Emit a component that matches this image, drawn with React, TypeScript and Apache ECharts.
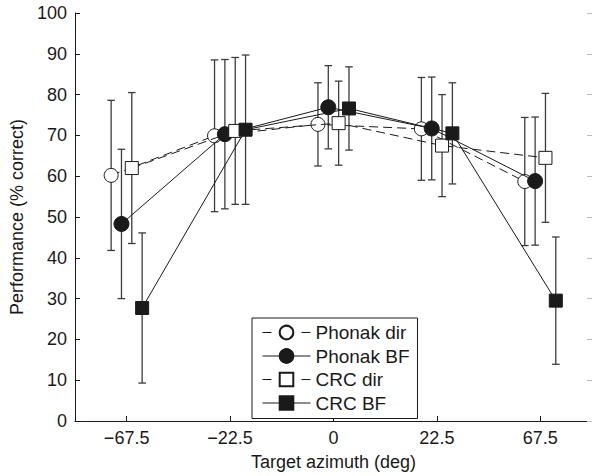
import React, { useEffect, useRef } from "react";
import * as echarts from "echarts";

const categories = ["−67.5", "−22.5", "0", "22.5", "67.5"];
const seriesNames = ["Phonak dir", "Phonak BF", "CRC dir", "CRC BF"];

const phonakDirMean = [60.2, 69.9, 72.7, 71.6, 58.7];
const phonakDirErr = [18.4, 18.6, 10.2, 12.6, 15.7];
const phonakBFMean = [48.3, 70.3, 76.9, 71.7, 58.8];
const phonakBFErr = [18.3, 18.3, 10.2, 12.6, 15.7];
const crcDirMean = [62.0, 71.1, 73.0, 67.5, 64.5];
const crcDirErr = [18.5, 18.0, 10.3, 12.5, 15.8];
const crcBFMean = [27.7, 71.4, 76.6, 70.5, 29.5];
const crcBFErr = [18.4, 18.3, 10.2, 12.4, 15.6];

const yTicks = [0, 10, 20, 30, 40, 50, 60, 70, 80, 90, 100];

const FONT = "'Liberation Sans', Arial, sans-serif";
const INK = "#1a1a1a";

export default function App() {
  const ref = useRef<HTMLDivElement>(null);
  useEffect(() => {
    const chart = echarts.init(ref.current!, null, { renderer: "svg" });
    const means = [phonakDirMean, phonakBFMean, crcDirMean, crcBFMean];
    const errs = [phonakDirErr, phonakBFErr, crcDirErr, crcBFErr];
    const offsets = [-0.15, -0.05, 0.05, 0.15];
    const styles = [
      { symbol: "circle", size: 14, fill: "#ffffff", dash: [9, 5] as any },
      { symbol: "circle", size: 15, fill: INK, dash: "solid" as any },
      { symbol: "rect", size: 13, fill: "#ffffff", dash: [9, 5] as any },
      { symbol: "rect", size: 13, fill: INK, dash: "solid" as any },
    ];
    const catPos = categories.map((_, i) => i + 1);

    const errorSeries = means.map((m, s) => ({
      type: "custom",
      name: seriesNames[s] + " err",
      z: 2,
      silent: true,
      data: m.map((v, i) => [catPos[i] + offsets[s], v - errs[s][i], v + errs[s][i]]),
      renderItem: (params: any, api: any) => {
        const x = api.value(0);
        const lo = api.coord([x, api.value(1)]);
        const hi = api.coord([x, api.value(2)]);
        const w = 3.8;
        const st = { stroke: "#3c3c3c", lineWidth: 1.3 };
        return {
          type: "group",
          children: [
            { type: "line", shape: { x1: lo[0], y1: lo[1], x2: hi[0], y2: hi[1] }, style: st },
            { type: "line", shape: { x1: hi[0] - w, y1: hi[1], x2: hi[0] + w, y2: hi[1] }, style: st },
            { type: "line", shape: { x1: lo[0] - w, y1: lo[1], x2: lo[0] + w, y2: lo[1] }, style: st },
          ],
        };
      },
    }));

    const lineSeries = means.map((m, s) => ({
      type: "line",
      name: seriesNames[s],
      z: 3 + s,
      data: m.map((v, i) => [catPos[i] + offsets[s], v]),
      symbol: styles[s].symbol,
      symbolSize: styles[s].size,
      itemStyle: { color: styles[s].fill, borderColor: INK, borderWidth: 1 },
      lineStyle: { color: INK, width: 1, type: styles[s].dash },
      emphasis: { disabled: true },
    }));

    chart.setOption({
      animation: false,
      backgroundColor: "#ffffff",
      textStyle: { fontFamily: FONT },
      grid: { left: 72, right: -3, top: 13, bottom: 51, containLabel: false },
      legend: {
        orient: "vertical",
        left: 252,
        top: 318,
        padding: [5, 8, 6, 10],
        borderColor: INK,
        borderWidth: 1,
        backgroundColor: "#ffffff",
        itemWidth: 48,
        itemHeight: 17,
        itemGap: 4.5,
        itemTextGap: 5,
        textStyle: { fontSize: 19, color: INK, fontFamily: FONT },
        data: seriesNames.map((n, i) => ({
          name: n,
          lineStyle: { type: i % 2 === 0 ? [9, 30] : "solid", width: 1, color: INK },
        })),
      },
      xAxis: {
        type: "value",
        min: 0.5,
        max: 5.5,
        name: "Target azimuth (deg)",
        nameLocation: "middle",
        nameGap: 32,
        nameTextStyle: { fontSize: 18, color: INK, fontFamily: FONT },
        splitLine: { show: false },
        axisLine: { show: true, onZero: false, lineStyle: { color: INK, width: 1 } },
        axisTick: { show: true, inside: true, length: 5, customValues: catPos, lineStyle: { color: INK } },
        axisLabel: {
          customValues: catPos,
          margin: 8,
          fontSize: 18,
          color: INK,
          fontFamily: FONT,
          formatter: (v: number) => categories[Math.round(v) - 1] ?? "",
        },
      },
      yAxis: [
        {
          type: "value",
          min: 0,
          max: 100,
          interval: 10,
          name: "Performance (% correct)",
          nameLocation: "middle",
          nameGap: 45,
          nameTextStyle: { fontSize: 18, color: INK, fontFamily: FONT },
          splitLine: { show: false },
          axisLine: { show: true, lineStyle: { color: INK, width: 1 } },
          axisTick: { show: true, inside: true, length: 5, lineStyle: { color: INK } },
          axisLabel: {
            margin: 8,
            fontSize: 18,
            color: INK,
            fontFamily: FONT,
            formatter: (v: number) => (yTicks.includes(v) ? String(v) : ""),
          },
        },
        {
          type: "value",
          position: "right",
          min: 0,
          max: 100,
          interval: 10,
          splitLine: { show: false },
          axisLine: { show: true, lineStyle: { color: "#bbbbbb", width: 1 } },
          axisTick: { show: true, inside: true, length: 5, lineStyle: { color: "#bbbbbb" } },
          axisLabel: { show: false },
        },
      ],
      series: [...errorSeries, ...lineSeries],
    });
    return () => chart.dispose();
  }, []);
  return (
    <div
      ref={ref}
      style={{ position: "absolute", left: 0, top: 0, width: 592, height: 476, background: "#fff" }}
    />
  );
}
